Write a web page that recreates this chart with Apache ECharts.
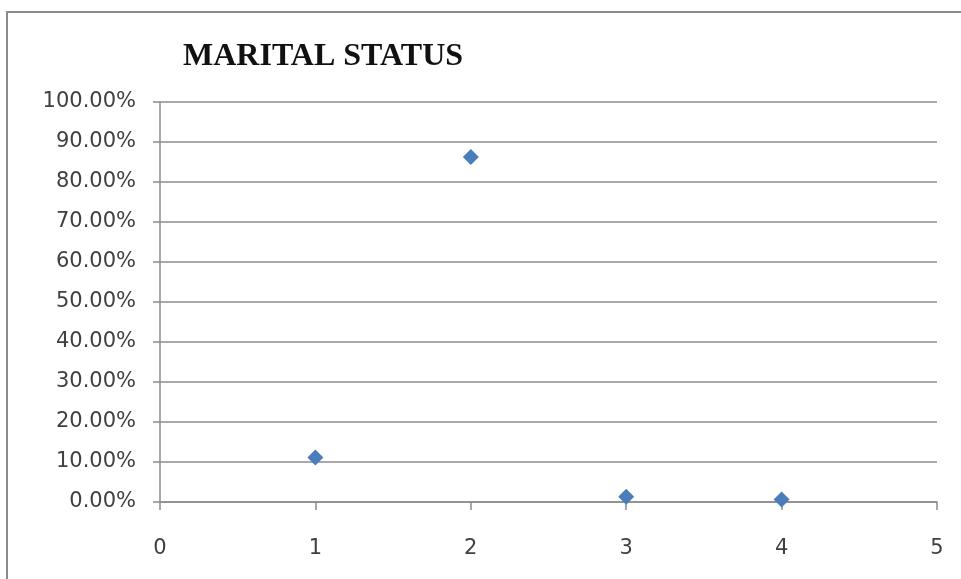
<!DOCTYPE html>
<html>
<head>
<meta charset="utf-8">
<script src="https://cdn.jsdelivr.net/npm/echarts@6/dist/echarts.min.js"></script>
<style>
  html, body { margin: 0; padding: 0; background: #fff; }
  #chart { width: 961px; height: 579px; }
</style>
</head>
<body>
<div id="chart"></div>
<script>
// Marital status shares, one point per category code
const categories = [1, 2, 3, 4];
const shares = [0.1115, 0.8625, 0.013, 0.006];
const xTicks = [0, 1, 2, 3, 4, 5];
const yTicks = [0, 0.1, 0.2, 0.3, 0.4, 0.5, 0.6, 0.7, 0.8, 0.9, 1.0];

const points = categories.map((c, i) => [c, shares[i]]);
const labelFont = 'DejaVu Sans';

const chart = echarts.init(document.getElementById('chart'), null, { renderer: 'canvas' });
chart.setOption({
  animation: false,
  backgroundColor: '#ffffff',
  title: {
    text: 'MARITAL STATUS',
    left: 178,
    top: 36,
    textStyle: {
      fontFamily: 'Liberation Serif',
      fontWeight: 'bold',
      fontSize: 32,
      color: '#111111'
    }
  },
  graphic: [{
    type: 'polyline',
    shape: { points: [[7, 579], [7, 12], [961, 12]] },
    style: { stroke: '#8a8a8a', lineWidth: 2, fill: null },
    silent: true
  }],
  grid: { left: 160, right: 24, top: 102, bottom: 77 },
  xAxis: {
    type: 'value',
    min: xTicks[0],
    max: xTicks[xTicks.length - 1],
    interval: 1,
    splitLine: { show: false },
    axisLine: { show: true, lineStyle: { color: '#8c8c8c', width: 1.5 } },
    axisTick: { show: true, inside: false, length: 8, lineStyle: { color: '#8c8c8c', width: 1.5 } },
    axisLabel: {
      margin: 36,
      fontFamily: labelFont,
      fontSize: 21,
      color: '#404040'
    }
  },
  yAxis: {
    type: 'value',
    min: yTicks[0],
    max: yTicks[yTicks.length - 1],
    interval: 0.1,
    splitLine: { show: true, lineStyle: { color: '#8c8c8c', width: 1.5 } },
    axisLine: { show: true, lineStyle: { color: '#8c8c8c', width: 1.5 } },
    axisTick: { show: true, inside: false, length: 7, lineStyle: { color: '#8c8c8c', width: 1.5 } },
    axisLabel: {
      margin: 24,
      fontFamily: labelFont,
      fontSize: 21,
      color: '#404040',
      formatter: v => (v * 100).toFixed(2) + '%'
    }
  },
  series: [{
    type: 'scatter',
    data: points,
    symbol: 'diamond',
    symbolSize: 16,
    itemStyle: { color: '#4a7ebb', opacity: 1 }
  }]
});
</script>
</body>
</html>
